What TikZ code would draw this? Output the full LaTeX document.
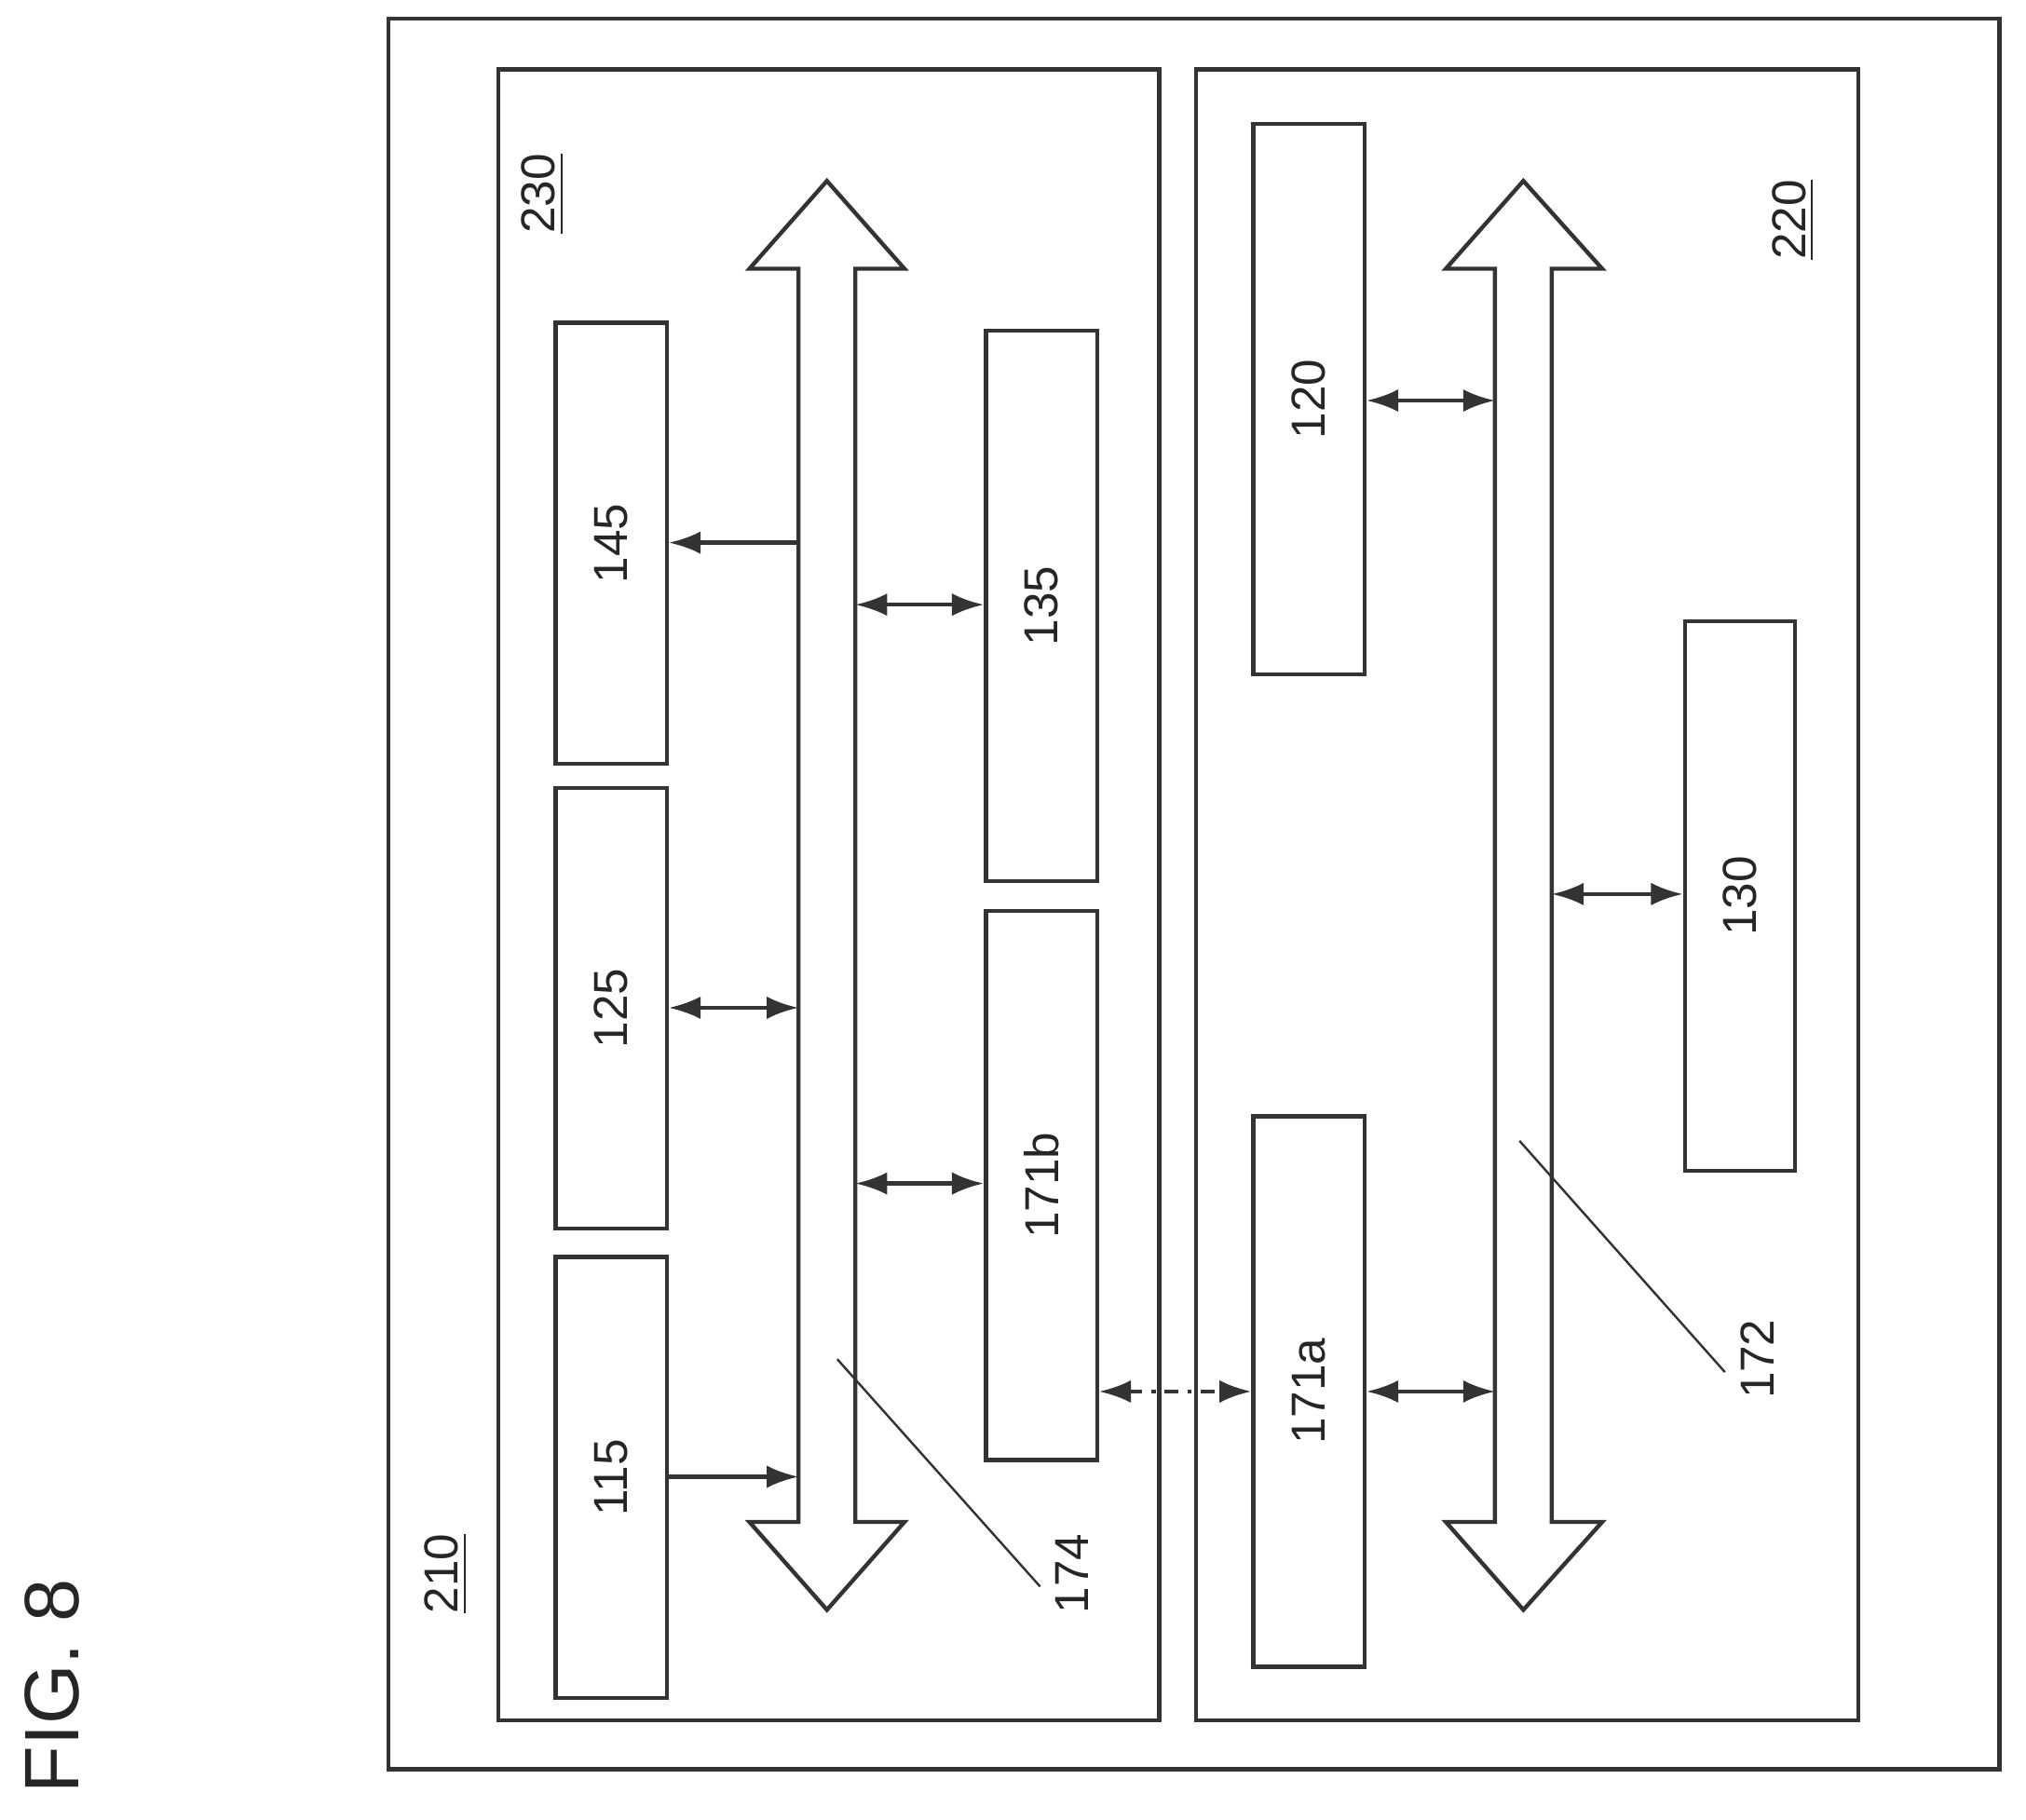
\documentclass[tikz,border=0pt]{standalone}
\usepackage{fontspec}
\setmainfont{Liberation Sans}
\usetikzlibrary{arrows.meta}
\begin{document}
\begin{tikzpicture}[x=0.01cm,y=-0.01cm,
  ln/.style={draw=black!80,line width=0.9pt},
  box/.style={ln,rectangle,inner sep=0pt},
  num/.style={rotate=90,font=\fontsize{10.5}{12}\selectfont,text=black!85},
  ar/.style={ln,{Latex[length=7pt,width=5pt]}-{Latex[length=7pt,width=5pt]}},
  ra/.style={ln,-{Latex[length=7pt,width=5pt]}}]
\useasboundingbox (0,0) rectangle (1568,1408);
% containers
\node[box,minimum width=12.46cm,minimum height=13.54cm] (b210) at (924,692) {};
\node[box,minimum width=5.11cm,minimum height=12.77cm] (b230) at (641.5,692.5) {};
\node[box,minimum width=5.12cm,minimum height=12.77cm] (b220) at (1182,692.5) {};
\node[num] (l210) at (345,1218) {\underline{210}};
\node[num] (l230) at (420,150) {\underline{230}};
\node[num] (l220) at (1388,170) {\underline{220}};
\node[rotate=90,font=\fontsize{17}{20}\selectfont,text=black!85] (fig) at (40,1305) {FIG. 8};
% boxes
\node[box,minimum width=0.86cm,minimum height=3.41cm] (n145) at (473,420.5) {};
\node[box,minimum width=0.86cm,minimum height=3.41cm] (n125) at (473,780.5) {};
\node[box,minimum width=0.86cm,minimum height=3.41cm] (n115) at (473,1143.5) {};
\node[box,minimum width=0.86cm,minimum height=4.26cm] (n135) at (806,469) {};
\node[box,minimum width=0.86cm,minimum height=4.25cm] (n171b) at (806,917.5) {};
\node[box,minimum width=0.86cm,minimum height=4.26cm] (n120) at (1013,309) {};
\node[box,minimum width=0.86cm,minimum height=4.26cm] (n171a) at (1013,1077) {};
\node[box,minimum width=0.85cm,minimum height=4.25cm] (n130) at (1346.5,693.5) {};
\node[num] (t145) at (n145) {145};
\node[num] (t125) at (n125) {125};
\node[num] (t115) at (n115) {115};
\node[num] (t135) at (n135) {135};
\node[num] (t171b) at (n171b) {171b};
\node[num] (t120) at (n120) {120};
\node[num] (t171a) at (n171a) {171a};
\node[num] (t130) at (n130) {130};
% buses
\draw[ln,fill=white] (618,208) -- (580,208) -- (640,140) -- (700,208) -- (662,208) -- (662,1178) -- (700,1178) -- (640,1246) -- (580,1178) -- (618,1178) -- cycle;
\draw[ln,fill=white] (1157,208) -- (1119,208) -- (1179,140) -- (1240,208) -- (1201,208) -- (1201,1178) -- (1240,1178) -- (1179,1246) -- (1119,1178) -- (1157,1178) -- cycle;
\coordinate (L1) at (618,420); \coordinate (L2) at (618,780); \coordinate (L3) at (618,1143);
\coordinate (R1) at (662,468); \coordinate (R2) at (662,916);
\coordinate (S1) at (1157,310); \coordinate (S2) at (1157,1077); \coordinate (S3) at (1201,692);
\draw[ra] (L1) -- (n145.east |- L1);
\draw[ar] (n125.east |- L2) -- (L2);
\draw[ra] (n115.east |- L3) -- (L3);
\draw[ar] (R1) -- (n135.west |- R1);
\draw[ar] (R2) -- (n171b.west |- R2);
\draw[ar,dash dot] (n171b.east |- S2) -- (n171a.west |- S2);
\draw[ar] (n171a.east |- S2) -- (S2);
\draw[ar] (n120.east |- S1) -- (S1);
\draw[ar] (S3) -- (n130.west |- S3);
% leaders
\coordinate (p174) at (648,1052); \coordinate (p172) at (1176,883);
\node[num] (l174) at (830,1218) {174};
\node[num] (l172) at (1360,1052) {172};
\draw[draw=black!80,line width=0.5pt] (p174) -- (805,1228);
\draw[draw=black!80,line width=0.5pt] (p172) -- (1335,1062);
\end{tikzpicture}
\end{document}
